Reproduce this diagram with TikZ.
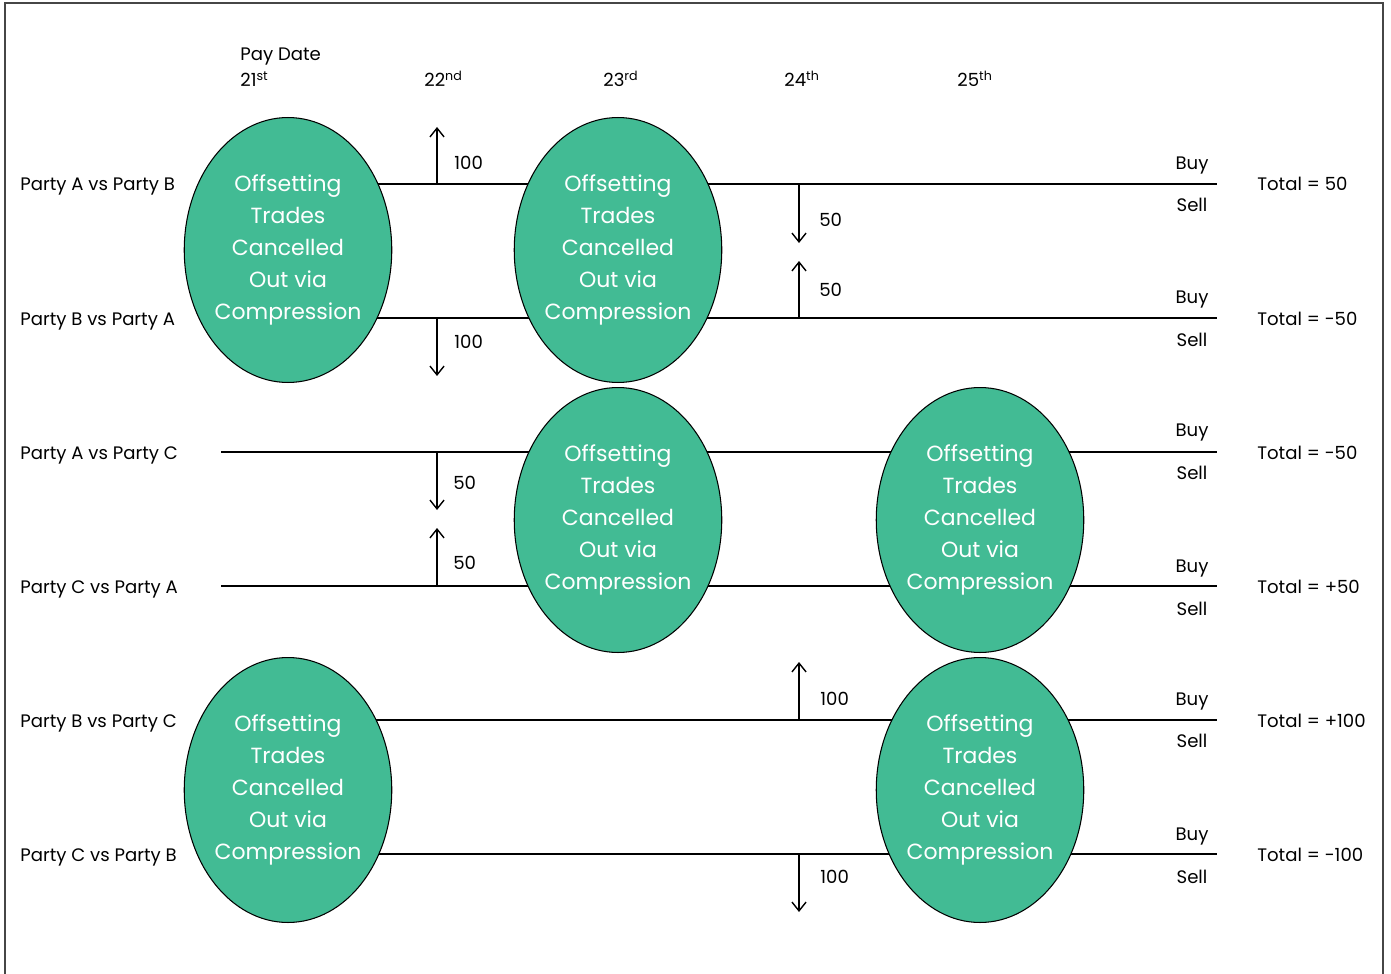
\documentclass[tikz,border=0pt]{standalone}
\usepackage{fontspec}
\setmainfont{Poppins}
\usetikzlibrary{shapes.geometric,arrows.meta,backgrounds}
\definecolor{cpgreen}{RGB}{66,187,148}
\definecolor{framegray}{RGB}{70,70,70}

\begin{document}
\begin{tikzpicture}[
  x=0.02cm, y=-0.02cm,
  trade/.style={
    ellipse, draw=black, fill=cpgreen, line width=0.6pt,
    minimum width=4.14cm, minimum height=5.3cm, inner sep=0pt,
    text=white, align=center, font=\fontsize{12.5}{18.1}\selectfont
  },
  txt/.style={anchor=base west, inner sep=0pt, font=\fontsize{10.3}{12}\selectfont},
  side/.style={anchor=base, inner sep=0pt, font=\fontsize{10.3}{12}\selectfont},
  leg/.style={line width=0.8pt},
  flow/.style={-{Straight Barb[length=5pt,width=8pt]}, line width=0.8pt}
]
  \useasboundingbox (0,0) rectangle (1391,973);
  \draw[framegray, line width=0.6pt] (5,980) -- (5,3) -- (1383,3) -- (1383,980);

  % header
  \node[txt] (pay) at (240,61) {Pay Date};
  \node[txt] (d21) at (240,87) {21\textsuperscript{st}};
  \node[txt] (d22) at (424,87) {22\textsuperscript{nd}};
  \node[txt] (d23) at (603,87) {23\textsuperscript{rd}};
  \node[txt] (d24) at (784,87) {24\textsuperscript{th}};
  \node[txt] (d25) at (957,87) {25\textsuperscript{th}};

  % compression ellipses
  \node[trade] (e1) at (288,250) {Offsetting\\Trades\\Cancelled\\Out via\\Compression};
  \node[trade] (e2) at (618,250) {Offsetting\\Trades\\Cancelled\\Out via\\Compression};
  \node[trade] (e3) at (618,520) {Offsetting\\Trades\\Cancelled\\Out via\\Compression};
  \node[trade] (e4) at (980,520) {Offsetting\\Trades\\Cancelled\\Out via\\Compression};
  \node[trade] (e5) at (288,790) {Offsetting\\Trades\\Cancelled\\Out via\\Compression};
  \node[trade] (e6) at (980,790) {Offsetting\\Trades\\Cancelled\\Out via\\Compression};

  % party labels
  \node[txt] (pab) at (20,191) {Party A vs Party B};
  \node[txt] (pba) at (20,325) {Party B vs Party A};
  \node[txt] (pac) at (20,459) {Party A vs Party C};
  \node[txt] (pca) at (20,593) {Party C vs Party A};
  \node[txt] (pbc) at (20,727) {Party B vs Party C};
  \node[txt] (pcb) at (20,861) {Party C vs Party B};

  % line ends
  \coordinate (ab0) at (288,184);  \coordinate (ab1) at (1217,184);
  \coordinate (ba0) at (288,318);  \coordinate (ba1) at (1217,318);
  \coordinate (ac0) at (221,452);  \coordinate (ac1) at (1217,452);
  \coordinate (ca0) at (221,586);  \coordinate (ca1) at (1217,586);
  \coordinate (bc0) at (288,720);  \coordinate (bc1) at (1217,720);
  \coordinate (cb0) at (288,854);  \coordinate (cb1) at (1217,854);

  \begin{scope}[on background layer]
    \draw[leg] (ab0) -- (ab1);
    \draw[leg] (ba0) -- (ba1);
    \draw[leg] (ac0) -- (ac1);
    \draw[leg] (ca0) -- (ca1);
    \draw[leg] (bc0) -- (bc1);
    \draw[leg] (cb0) -- (cb1);
  \end{scope}

  % buy / sell and totals
  \node[side] (buy1) at (1192,170) {Buy};  \node[side] (sell1) at (1192,212) {Sell};
  \node[side] (buy2) at (1192,303) {Buy};  \node[side] (sell2) at (1192,346) {Sell};
  \node[side] (buy3) at (1192,436) {Buy};  \node[side] (sell3) at (1192,479) {Sell};
  \node[side] (buy4) at (1192,572) {Buy};  \node[side] (sell4) at (1192,615) {Sell};
  \node[side] (buy5) at (1192,705) {Buy};  \node[side] (sell5) at (1192,747) {Sell};
  \node[side] (buy6) at (1192,840) {Buy};  \node[side] (sell6) at (1192,883) {Sell};

  \node[txt] (tab) at (1257,191) {Total = 50};
  \node[txt] (tba) at (1257,325) {Total = -50};
  \node[txt] (tac) at (1257,459) {Total = -50};
  \node[txt] (tca) at (1257,593) {Total = +50};
  \node[txt] (tbc) at (1257,727) {Total = +100};
  \node[txt] (tcb) at (1257,861) {Total = -100};

  % payment arrows
  \coordinate (s1) at (437,184);  \coordinate (t1) at (437,127);
  \coordinate (s2) at (437,318);  \coordinate (t2) at (437,376);
  \coordinate (s3) at (799,184);  \coordinate (t3) at (799,243);
  \coordinate (s4) at (799,318);  \coordinate (t4) at (799,261);
  \coordinate (s5) at (437,452);  \coordinate (t5) at (437,510);
  \coordinate (s6) at (437,586);  \coordinate (t6) at (437,528);
  \coordinate (s7) at (799,720);  \coordinate (t7) at (799,662);
  \coordinate (s8) at (799,854);  \coordinate (t8) at (799,912);
  \draw[flow] (s1) -- (t1);
  \draw[flow] (s2) -- (t2);
  \draw[flow] (s3) -- (t3);
  \draw[flow] (s4) -- (t4);
  \draw[flow] (s5) -- (t5);
  \draw[flow] (s6) -- (t6);
  \draw[flow] (s7) -- (t7);
  \draw[flow] (s8) -- (t8);

  \node[txt] (v1) at (454,170) {100};
  \node[txt] (v2) at (454,348) {100};
  \node[txt] (v3) at (819,226) {50};
  \node[txt] (v4) at (819,296) {50};
  \node[txt] (v5) at (453,489) {50};
  \node[txt] (v6) at (453,569) {50};
  \node[txt] (v7) at (820,705) {100};
  \node[txt] (v8) at (820,883) {100};
\end{tikzpicture}
\end{document}
